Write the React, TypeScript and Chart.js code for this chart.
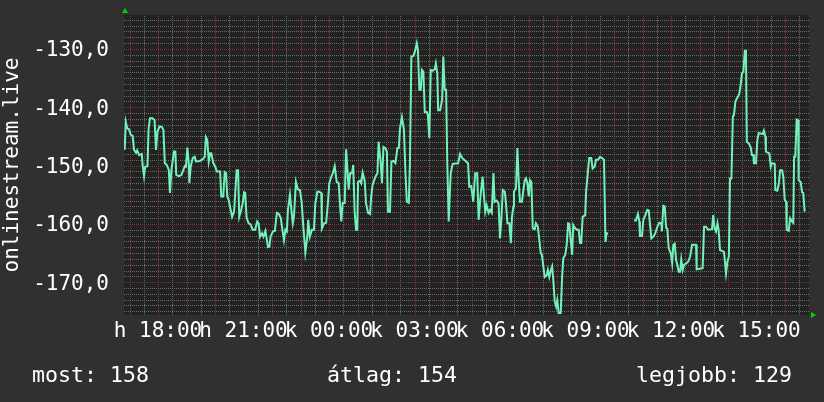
import React, { useEffect, useRef } from 'react';
import { Chart, registerables } from 'chart.js';

Chart.register(...registerables);

// time in hours since Monday 00:00 (24+ = Tuesday)
const times: number[] = [
  16.83, 16.87, 16.92, 16.99, 17.04, 17.11, 17.16, 17.23, 17.27, 17.34,
  17.43, 17.46, 17.51, 17.55, 17.63, 17.67, 17.72, 17.81, 17.88, 17.93,
  17.98, 18.05, 18.14, 18.19, 18.24, 18.31, 18.38, 18.42, 18.47, 18.52,
  18.56, 18.61, 18.64, 18.73, 18.82, 18.87, 18.94, 18.98, 19.03, 19.08,
  19.10, 19.15, 19.22, 19.29, 19.33, 19.47, 19.57, 19.64, 19.68, 19.73,
  19.78, 19.83, 19.87, 19.94, 20.01, 20.06, 20.18, 20.22, 20.29, 20.34,
  20.39, 20.43, 20.48, 20.55, 20.60, 20.67, 20.71, 20.76, 20.81, 20.85,
  20.92, 20.97, 21.02, 21.06, 21.11, 21.18, 21.25, 21.32, 21.41, 21.48,
  21.53, 21.58, 21.65, 21.70, 21.77, 21.81, 21.86, 21.91, 21.95, 22.03,
  22.10, 22.17, 22.24, 22.31, 22.35, 22.42, 22.47, 22.52, 22.56, 22.63,
  22.68, 22.73, 22.77, 22.84, 22.91, 22.98, 23.04, 23.10, 23.17, 23.24,
  23.27, 23.33, 23.40, 23.47, 23.52, 23.59, 23.66, 23.73, 23.75, 23.83,
  23.90, 23.97, 24.01, 24.08, 24.13, 24.20, 24.27, 24.34, 24.39, 24.43,
  24.48, 24.55, 24.60, 24.64, 24.69, 24.74, 24.81, 24.85, 24.90, 24.95,
  24.99, 25.02, 25.09, 25.13, 25.18, 25.25, 25.30, 25.37, 25.44, 25.48,
  25.53, 25.63, 25.70, 25.74, 25.81, 25.86, 25.91, 25.98, 26.03, 26.07,
  26.14, 26.19, 26.26, 26.33, 26.40, 26.45, 26.49, 26.56, 26.63, 26.68,
  26.73, 26.80, 26.84, 26.89, 26.96, 27.01, 27.08, 27.12, 27.17, 27.22,
  27.26, 27.31, 27.36, 27.43, 27.47, 27.52, 27.57, 27.64, 27.71, 27.75,
  27.80, 27.83, 27.90, 27.97, 28.01, 28.06, 28.11, 28.15, 28.20, 28.27,
  28.34, 28.53, 28.60, 28.67, 28.81, 28.88, 28.92, 28.99, 29.06, 29.13,
  29.20, 29.25, 29.32, 29.39, 29.44, 29.48, 29.53, 29.60, 29.65, 29.71,
  29.77, 29.81, 29.88, 29.95, 30.00, 30.05, 30.10, 30.17, 30.21, 30.26,
  30.33, 30.38, 30.42, 30.47, 30.49, 30.56, 30.61, 30.66, 30.70, 30.77,
  30.82, 30.87, 30.91, 30.96, 31.01, 31.05, 31.10, 31.15, 31.22, 31.26,
  31.33, 31.38, 31.43, 31.47, 31.52, 31.57, 31.64, 31.68, 31.73, 31.78,
  31.83, 31.87, 31.92, 31.97, 32.01, 32.06, 32.13, 32.18, 32.22, 32.29,
  32.34, 32.39, 32.43, 32.48, 32.53, 32.57, 32.64, 32.71, 32.76, 32.81,
  32.85, 32.90, 32.99, 33.02, 33.09, 33.13, 33.20, 33.25, 33.32, 33.37,
  33.44, 33.51, 33.58, 33.65, 33.70, 33.74, 33.79,
  34.25,
  34.70, 34.77, 34.84, 34.89, 34.91, 34.98, 35.03, 35.10, 35.17, 35.22,
  35.26, 35.31, 35.38, 35.45, 35.52, 35.59, 35.66, 35.68, 35.73, 35.78,
  35.83, 35.87, 35.92, 35.99, 36.04, 36.08, 36.13, 36.18, 36.22, 36.27,
  36.32, 36.36, 36.41, 36.46, 36.53, 36.60, 36.67, 36.74, 36.88, 36.90,
  37.11, 37.16, 37.23, 37.30, 37.44, 37.48, 37.53, 37.58, 37.63, 37.67,
  37.72, 37.86, 37.93, 37.98, 38.03, 38.07, 38.12, 38.17, 38.21, 38.26,
  38.31, 38.35, 38.40, 38.45, 38.49, 38.54, 38.59, 38.63, 38.66, 38.73,
  38.80, 38.84, 38.89, 38.91, 38.98, 39.03, 39.08, 39.22, 39.26, 39.31,
  39.33, 39.45, 39.50, 39.54, 39.64, 39.66, 39.73, 39.78, 39.83, 39.90,
  39.94, 39.99, 40.04, 40.06, 40.13, 40.18, 40.25, 40.29, 40.32, 40.36,
  40.41, 40.46, 40.48, 40.55, 40.60, 40.64, 40.69,
];

const values: (number | null)[] = [
  -147.3, -142.5, -143.6, -143.8, -144.7, -144.9, -147.3, -147.8, -147.4, -148.2,
  -148.0, -149.9, -151.8, -150.2, -150.1, -143.6, -141.9, -141.9, -142.2, -147.3,
  -144.2, -143.3, -143.4, -143.9, -149.6, -149.9, -150.8, -154.7, -150.8, -149.0,
  -147.6, -147.6, -151.6, -151.8, -151.6, -151.0, -150.1, -150.2, -146.9, -149.6,
  -153.0, -150.1, -148.7, -148.5, -149.3, -149.2, -148.9, -148.5, -145.1, -145.6,
  -149.3, -147.9, -147.9, -149.6, -150.2, -151.0, -151.0, -155.3, -155.3, -151.1,
  -151.3, -155.3, -155.9, -157.6, -158.8, -157.9, -154.7, -150.8, -150.8, -158.8,
  -157.6, -156.5, -154.6, -154.7, -159.0, -159.9, -160.1, -161.0, -161.0, -159.6,
  -159.9, -162.2, -161.6, -162.2, -161.2, -162.5, -164.0, -163.9, -162.2, -161.3,
  -161.2, -158.1, -158.3, -159.0, -160.5, -162.8, -161.0, -161.3, -157.6, -155.0,
  -157.6, -159.9, -158.8, -152.8, -154.1, -154.2, -156.2, -160.5, -164.9, -162.2,
  -159.3, -162.2, -161.0, -161.0, -156.5, -154.5, -154.5, -154.7, -160.8, -159.9,
  -159.8, -155.9, -153.0, -151.9, -151.4, -150.1, -152.8, -153.0, -157.0, -159.6,
  -156.4, -156.4, -147.2, -150.2, -154.1, -151.3, -151.3, -149.9, -157.9, -161.0,
  -161.0, -152.8, -152.6, -153.0, -151.2, -152.5, -156.5, -158.1, -158.3, -155.3,
  -153.3, -151.9, -151.3, -145.9, -149.3, -153.0, -146.8, -147.0, -147.6, -157.9,
  -157.9, -149.3, -149.2, -149.6, -147.0, -147.0, -143.6, -141.7, -143.9, -151.0,
  -156.2, -156.4, -149.6, -131.3, -131.2, -130.5, -129.0, -130.2, -137.0, -137.0,
  -133.6, -133.9, -140.8, -140.8, -141.3, -145.3, -133.6, -133.7, -133.5, -132.5,
  -134.2, -140.5, -140.5, -138.7, -131.3, -137.0, -137.0, -149.6, -159.6, -151.3,
  -149.7, -149.6, -148.0, -148.7, -149.3, -149.6, -153.6, -153.5, -156.2, -151.3,
  -151.3, -159.3, -155.0, -151.9, -155.3, -157.9, -156.8, -158.1, -157.6, -158.1,
  -151.3, -156.2, -156.0, -156.5, -162.5, -159.0, -154.2, -154.5, -156.5, -159.9,
  -159.9, -163.3, -158.8, -157.0, -154.5, -153.9, -147.0, -153.0, -156.2, -156.2,
  -154.2, -152.5, -152.2, -153.0, -155.3, -152.5, -152.8, -160.8, -160.9, -159.9,
  -160.5, -162.8, -165.0, -165.3, -167.3, -169.1, -168.8, -167.9, -169.1, -168.0,
  -167.3, -169.6, -173.3, -174.2, -173.1, -175.3, -175.3, -169.1, -165.9, -165.3,
  -163.6, -159.9, -160.0, -162.8, -165.3, -160.2, -160.8, -161.0, -161.0, -163.3,
  -163.3, -158.8, -158.5, -154.5, -150.8, -148.7, -148.7, -150.5, -150.2, -149.0,
  -149.0, -148.5, -148.7, -149.0, -163.1, -161.6, -161.7,
  null,
  -159.4, -159.4, -158.3, -159.6, -162.1, -162.1, -159.3, -158.5, -157.6, -157.7,
  -159.9, -162.5, -162.2, -161.6, -160.5, -159.8, -159.9, -161.3, -156.9, -157.0,
  -160.7, -160.8, -164.2, -165.0, -166.7, -163.6, -163.4, -166.2, -167.0, -168.2,
  -168.2, -166.1, -167.9, -167.0, -166.8, -166.5, -165.6, -163.6, -163.6, -167.8,
  -167.6, -160.5, -160.5, -161.0, -160.9, -158.5, -160.8, -161.3, -159.9, -161.0,
  -164.5, -164.8, -168.5, -166.5, -165.6, -152.2, -152.2, -141.6, -141.3, -139.0,
  -138.5, -138.2, -137.6, -135.9, -134.2, -133.9, -130.3, -130.3, -145.9, -146.2,
  -146.9, -148.2, -148.2, -149.6, -149.6, -145.6, -144.4, -144.6, -144.0, -145.0,
  -147.6, -147.9, -150.2, -149.6, -149.7, -154.2, -154.3, -153.2, -150.8, -150.8,
  -151.9, -155.9, -156.2, -161.0, -161.2, -159.0, -159.6, -159.8, -148.5, -148.5,
  -142.1, -142.2, -152.5, -152.8, -154.6, -154.7, -157.9,
];

const xLabelHours: number[] = [18, 21, 24, 27, 30, 33, 36, 39];
const xLabels: string[] = ['h 18:00', 'h 21:00', 'k 00:00', 'k 03:00', 'k 06:00', 'k 09:00', 'k 12:00', 'k 15:00'];
const yLabelValues: number[] = [-170, -160, -150, -140, -130];
const yLabels: string[] = ['-170,0', '-160,0', '-150,0', '-140,0', '-130,0'];
const statLabels: string[] = ['most', 'átlag', 'legjobb'];
const statValues: number[] = [158, 154, 129];
const seriesName = 'onlinestream.live';

const X_MIN = 16.807;
const X_MAX = 40.842;
const Y_MIN = -175.63;
const Y_MAX = -124.17;
const X_MINOR = 0.5; // hours
const X_MAJOR = 1;
const Y_MINOR = 1;
const Y_MAJOR = 10;

const OUTER_BG = '#303030';
const CANVAS_BG = '#222222';
const GRID_GRAY = '#6a6a6a';
const GRID_RED = '#823434';
const LINE_COLOR = '#72f2ba';
const ARROW_COLOR = '#00d400';
const TEXT_COLOR = '#ffffff';
const FONT_FAMILY = '"DejaVu Sans Mono", monospace';

function gridValues(min: number, max: number, step: number): number[] {
  const out: number[] = [];
  const start = Math.ceil(min / step - 1e-9);
  const end = Math.floor(max / step + 1e-9);
  for (let k = start; k <= end; k++) out.push(k * step);
  return out;
}

const rrdPlugin = {
  id: 'rrdDecor',
  beforeDraw(chart: any) {
    const { ctx, chartArea: a, width, height } = chart;
    ctx.save();
    ctx.fillStyle = OUTER_BG;
    ctx.fillRect(0, 0, width, height);
    ctx.fillStyle = CANVAS_BG;
    ctx.fillRect(a.left, a.top, a.right - a.left, a.bottom - a.top);
    ctx.restore();
  },
  beforeDatasetsDraw(chart: any) {
    const { ctx, chartArea: a, scales } = chart;
    const xs = scales.x;
    const ys = scales.y;
    const L = Math.round(a.left);
    const R = Math.round(a.right);
    const T = Math.round(a.top);
    const B = Math.round(a.bottom);
    ctx.save();
    gridValues(X_MIN, X_MAX, X_MINOR).forEach((v) => {
      const px = Math.round(xs.getPixelForValue(v));
      const major = Math.abs(v / X_MAJOR - Math.round(v / X_MAJOR)) < 1e-6;
      ctx.fillStyle = major ? GRID_RED : GRID_GRAY;
      for (let y = T + (T % 2); y < B; y += 2) ctx.fillRect(px, y, 1, 1);
    });
    gridValues(Y_MIN, Y_MAX, Y_MINOR).forEach((v) => {
      const py = Math.round(ys.getPixelForValue(v));
      const major = Math.abs(v / Y_MAJOR - Math.round(v / Y_MAJOR)) < 1e-6;
      ctx.fillStyle = major ? GRID_RED : GRID_GRAY;
      for (let x = L; x < R; x += 2) ctx.fillRect(x, py, 1, 1);
    });
    ctx.restore();
  },
  afterDraw(chart: any) {
    const { ctx, chartArea: a } = chart;
    ctx.save();
    ctx.fillStyle = ARROW_COLOR;
    const ax = a.left + 1;
    ctx.beginPath();
    ctx.moveTo(ax - 3, a.top - 2);
    ctx.lineTo(ax + 3, a.top - 2);
    ctx.lineTo(ax, a.top - 7);
    ctx.closePath();
    ctx.fill();
    ctx.beginPath();
    ctx.moveTo(a.right + 2, a.bottom - 3);
    ctx.lineTo(a.right + 2, a.bottom + 3);
    ctx.lineTo(a.right + 7, a.bottom);
    ctx.closePath();
    ctx.fill();

    ctx.font = `21.6px ${FONT_FAMILY}`;
    ctx.fillStyle = TEXT_COLOR;
    ctx.textBaseline = 'alphabetic';
    const xs = [32, 327, 636];
    statLabels.forEach((l, i) => {
      ctx.fillText(`${l}: ${statValues[i]}`, xs[i], 382);
    });
    ctx.restore();
  },
};

export default function App() {
  const ref = useRef<HTMLCanvasElement | null>(null);

  useEffect(() => {
    if (!ref.current) return;
    const points = times.map((t, i) => ({ x: t, y: values[i] }));
    const chart = new Chart(ref.current, {
      type: 'line',
      data: {
        datasets: [
          {
            label: seriesName,
            data: points as any,
            borderColor: LINE_COLOR,
            borderWidth: 2,
            pointRadius: 0,
            tension: 0,
            spanGaps: false,
            fill: false,
          },
        ],
      },
      options: {
        animation: false,
        responsive: false,
        devicePixelRatio: 1,
        layout: { padding: { left: 0, top: 15, right: 15, bottom: 0 } },
        plugins: { legend: { display: false }, tooltip: { enabled: false } },
        scales: {
          x: {
            type: 'linear',
            min: X_MIN,
            max: X_MAX,
            afterBuildTicks: (scale: any) => {
              scale.ticks = gridValues(X_MIN, X_MAX, X_MINOR).map((value) => ({ value }));
            },
            afterFit: (scale: any) => {
              scale.height = 87;
              scale.paddingLeft = 0;
              scale.paddingRight = 0;
            },
            grid: { display: false, drawTicks: false },
            border: { display: false },
            ticks: {
              autoSkip: false,
              maxRotation: 0,
              minRotation: 0,
              padding: 4,
              color: TEXT_COLOR,
              font: { family: FONT_FAMILY, size: 21 },
              callback: (v: any) => {
                const i = xLabelHours.indexOf(Number(v));
                return i >= 0 ? xLabels[i] : '';
              },
            },
          },
          y: {
            type: 'linear',
            min: Y_MIN,
            max: Y_MAX,
            afterBuildTicks: (scale: any) => {
              scale.ticks = gridValues(Y_MIN, Y_MAX, Y_MINOR).map((value) => ({ value }));
            },
            afterFit: (scale: any) => {
              scale.width = 124;
              scale.paddingTop = 0;
              scale.paddingBottom = 0;
            },
            grid: { display: false, drawTicks: false },
            border: { display: false },
            title: {
              display: true,
              text: seriesName,
              color: TEXT_COLOR,
              font: { family: FONT_FAMILY, size: 21 },
              padding: 0,
            },
            ticks: {
              autoSkip: false,
              padding: 15,
              labelOffset: 2,
              color: TEXT_COLOR,
              font: { family: FONT_FAMILY, size: 21 },
              callback: (v: any) => {
                const i = yLabelValues.indexOf(Number(v));
                return i >= 0 ? yLabels[i] : '';
              },
            },
          },
        },
      },
      plugins: [rrdPlugin],
    });
    return () => chart.destroy();
  }, []);

  return (
    <div
      style={{
        position: 'absolute',
        left: 0,
        top: 0,
        width: 824,
        height: 402,
        background: OUTER_BG,
      }}
    >
      <canvas ref={ref} width={824} height={402} style={{ display: 'block' }} />
    </div>
  );
}
